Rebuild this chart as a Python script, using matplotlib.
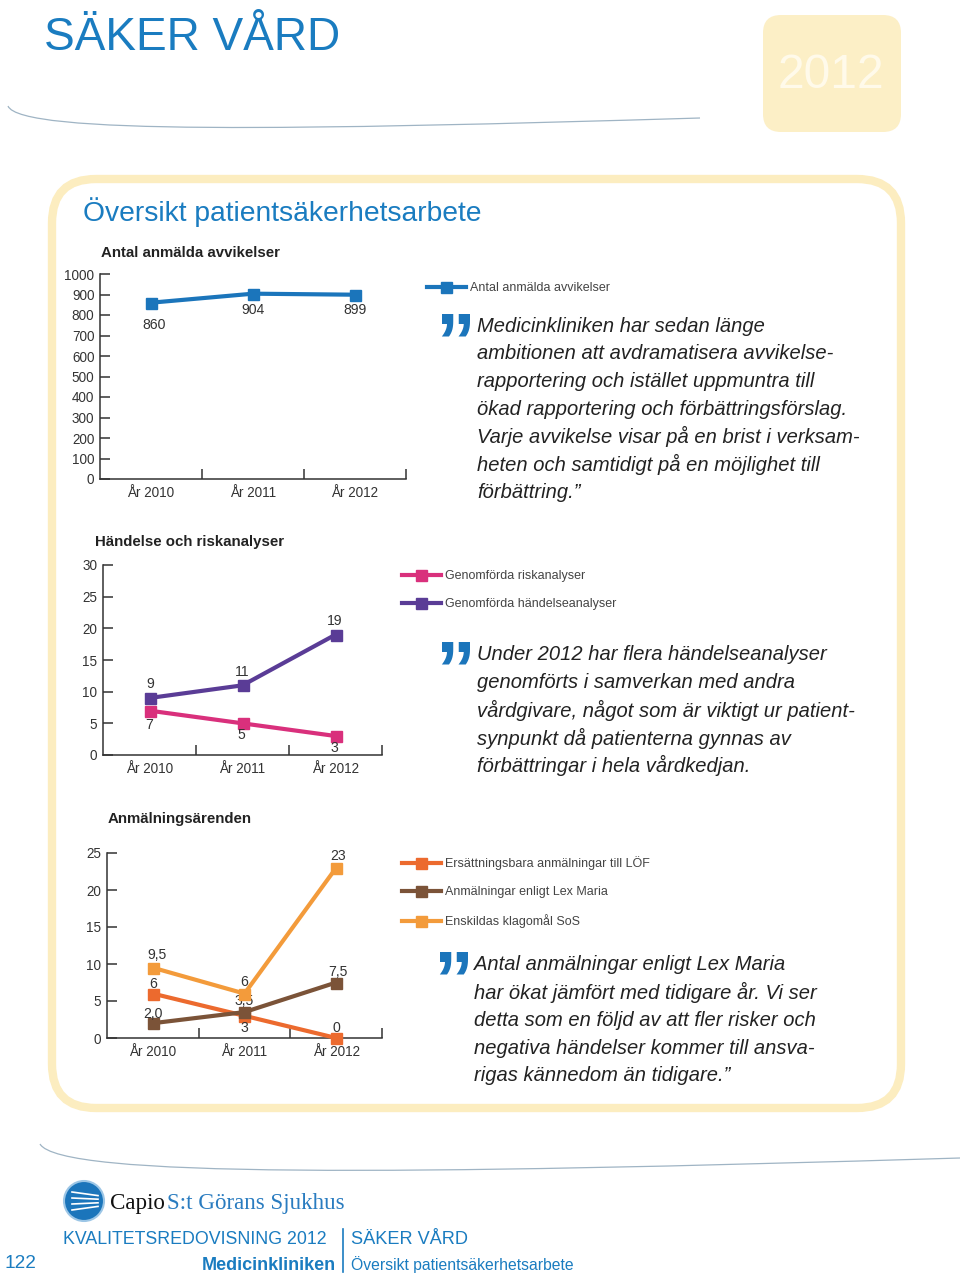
import numpy as np
import matplotlib
matplotlib.use("Agg")
import matplotlib.pyplot as plt
from matplotlib.patches import FancyBboxPatch, Circle
from matplotlib.path import Path
from matplotlib.patches import PathPatch

plt.rcParams['font.family'] = ['Liberation Sans', 'DejaVu Sans']

# ---- data ----
years = ['År 2010', 'År 2011', 'År 2012']

avvikelser = [860, 904, 899]

riskanalyser = [7, 5, 3]
handelseanalyser = [9, 11, 19]

lof = [6, 3, 0]
lex_maria = [2.0, 3.5, 7.5]
sos = [9.5, 6, 23]

lof_labels = ['6', '3', '0']
lex_labels = ['2,0', '3,5', '7,5']
sos_labels = ['9,5', '6', '23']

quote1 = ['Medicinkliniken har sedan länge',
          'ambitionen att avdramatisera avvikelse-',
          'rapportering och istället uppmuntra till',
          'ökad rapportering och förbättringsförslag.',
          'Varje avvikelse visar på en brist i verksam-',
          'heten och samtidigt på en möjlighet till',
          'förbättring.\u201d']
quote2 = ['Under 2012 har flera händelseanalyser',
          'genomförts i samverkan med andra',
          'vårdgivare, något som är viktigt ur patient-',
          'synpunkt då patienterna gynnas av',
          'förbättringar i hela vårdkedjan.']
quote3 = ['Antal anmälningar enligt Lex Maria',
          'har ökat jämfört med tidigare år. Vi ser',
          'detta som en följd av att fler risker och',
          'negativa händelser kommer till ansva-',
          'rigas kännedom än tidigare.\u201d']

BLUE = '#1b75bb'
PINK = '#d9307c'
PURPLE = '#5a3c96'
ORANGE = '#ec6a2e'
BROWN = '#7b5338'
LORANGE = '#f39b3b'
YELLOW = '#fcefc6'
TXT = '#333333'

W, H = 960, 1280


def P(px):
    return px * 0.72


fig = plt.figure(figsize=(9.6, 12.8), dpi=100)

# background canvas in pixel units
bg = fig.add_axes([0, 0, 1, 1])
bg.set_xlim(0, W)
bg.set_ylim(H, 0)
bg.axis('off')
bg.set_zorder(0)

bg.text(44, 38, 'SÄKER VÅRD', color='#1a7cc0', fontsize=P(46), va='center', ha='left')
bg.add_patch(FancyBboxPatch((763, 15), 138, 117, boxstyle='round,pad=0,rounding_size=18',
                            fc=YELLOW, ec='none'))
bg.text(831, 76, '2012', color='#fffaea', fontsize=P(48), ha='center', va='center')

# header swoosh
verts = [(8, 106), (20, 135), (300, 130), (700, 118)]
bg.add_patch(PathPatch(Path(verts, [Path.MOVETO, Path.CURVE4, Path.CURVE4, Path.CURVE4]),
                       fc='none', ec='#9fb4c4', lw=0.9))
# footer swoosh
verts = [(40, 1144), (60, 1178), (400, 1175), (960, 1158)]
bg.add_patch(PathPatch(Path(verts, [Path.MOVETO, Path.CURVE4, Path.CURVE4, Path.CURVE4]),
                       fc='none', ec='#9fb4c4', lw=0.9))

# frame
bg.add_patch(FancyBboxPatch((52, 179), 849, 929, boxstyle='round,pad=0,rounding_size=44',
                            fc='none', ec='#fcedc0', lw=6))
bg.text(83, 212, 'Översikt patientsäkerhetsarbete', color='#1a7cc0', fontsize=P(28.2),
        va='center', ha='left')

# chart titles
bg.text(101, 253, 'Antal anmälda avvikelser', fontsize=P(15), fontweight='bold',
        color='#222222', va='center')
bg.text(95, 542, 'Händelse och riskanalyser', fontsize=P(15), fontweight='bold',
        color='#222222', va='center')
bg.text(108, 819, 'Anmälningsärenden', fontsize=P(15), fontweight='bold',
        color='#222222', va='center')


def quote(x, y0, lines, qx, qy):
    for i, line in enumerate(lines):
        bg.text(x, y0 + i * 27.7, line, fontsize=P(20.2), style='italic', color='#222222',
                va='center', ha='left')
    bg.text(qx, qy, '\u201d', fontsize=P(80), fontweight='bold', color=BLUE,
            ha='center', va='top')


quote(477, 326, quote1, 455, 311)
quote(477, 655, quote2, 455, 638)
quote(474, 965, quote3, 453, 949)

# footer
bg.add_patch(Circle((84, 1201), 20, fc=BLUE, ec='#9cc6e6', lw=1.5))
for dy in (-9, -3, 3, 9):
    bg.plot([72, 98], [1201 + dy, 1201 + dy * 0.6], color='white', lw=1.2)
bg.text(110, 1203, 'Capio', family=['Liberation Serif'], fontsize=P(23), color='#111111',
        va='center')
bg.text(167, 1203, 'S:t Görans Sjukhus', family=['Liberation Serif'], fontsize=P(23),
        color='#2a7cc0', va='center')
bg.text(63, 1240, 'KVALITETSREDOVISNING 2012', fontsize=P(17.8), color='#1a7cc0', va='center')
bg.plot([343, 343], [1229, 1272], color='#1a7cc0', lw=1.2)
bg.text(351, 1240, 'SÄKER VÅRD', fontsize=P(18.2), color='#1a7cc0', va='center')
bg.text(336, 1265, 'Medicinkliniken', fontsize=P(18), fontweight='bold', color='#1a7cc0',
        va='center', ha='right')
bg.text(351, 1265, 'Översikt patientsäkerhetsarbete', fontsize=P(15.8), color='#1a7cc0',
        va='center')
bg.text(4, 1264, '122', fontsize=P(19), color='#1a7cc0', va='center')


def chart_axes(x0, x1, ytop, ybot, ymax, ystep):
    ax = fig.add_axes([x0 / W, 1 - ybot / H, (x1 - x0) / W, (ybot - ytop) / H])
    ax.set_zorder(2)
    ax.patch.set_alpha(0)
    ax.set_xlim(-0.5, 2.5)
    ax.set_ylim(0, ymax)
    ax.set_yticks(np.arange(0, ymax + 1, ystep))
    ax.set_xticks(range(3))
    ax.set_xticklabels(years)
    ax.set_xticks([0.5, 1.5, 2.5], minor=True)
    for s in ('top', 'right'):
        ax.spines[s].set_visible(False)
    for s in ('left', 'bottom'):
        ax.spines[s].set_color(TXT)
        ax.spines[s].set_linewidth(1.1)
    ax.tick_params(axis='y', direction='in', length=7, width=1.1, color=TXT,
                   labelsize=P(13.5), labelcolor=TXT, pad=4)
    ax.tick_params(axis='x', which='major', length=0, labelsize=P(13.5), labelcolor=TXT,
                   pad=5)
    ax.tick_params(axis='x', which='minor', direction='in', length=7, width=1.1, color=TXT)
    return ax


def series(ax, vals, color, labels, offsets, name):
    line, = ax.plot(range(3), vals, color=color, lw=3, marker='s', markersize=P(11),
                    clip_on=False, label=name, zorder=3)
    for i, (v, lab, off) in enumerate(zip(vals, labels, offsets)):
        ax.annotate(lab, (i, v), xytext=(P(off[0]), P(-off[1])), textcoords='offset points',
                    ha='center', va='center', fontsize=P(14), color=TXT)
    return line


def legend(ax, handles, x, y, spacing):
    ax.legend(handles=handles, loc='upper left', bbox_to_anchor=(x, y),
              bbox_transform=bg.transData, frameon=False, fontsize=P(12.5),
              handlelength=3.1, handletextpad=0.35, borderpad=0, borderaxespad=0,
              labelspacing=spacing, numpoints=1, labelcolor='#444444')


# chart 1
ax1 = chart_axes(100, 406, 274, 479, 1000, 100)
l1 = series(ax1, avvikelser, BLUE, [str(v) for v in avvikelser],
            [(3, 22), (0, 16), (0, 15)], 'Antal anmälda avvikelser')
legend(ax1, [l1], 427, 282, 1.0)

# chart 2
ax2 = chart_axes(103, 382, 565, 755, 30, 5)
l2a = series(ax2, riskanalyser, PINK, [str(v) for v in riskanalyser],
             [(0, 14), (-1, 12), (-1, 12)], 'Genomförda riskanalyser')
l2b = series(ax2, handelseanalyser, PURPLE, [str(v) for v in handelseanalyser],
             [(1, -14), (0, -13), (-1, -14)], 'Genomförda händelseanalyser')
legend(ax2, [l2a, l2b], 402, 570, 1.3)

# chart 3
ax3 = chart_axes(107, 382, 853, 1038, 25, 5)
l3a = series(ax3, lof, ORANGE, lof_labels, [(0, -10), (0, 12), (0, -10)],
             'Ersättningsbara anmälningar till LÖF')
l3b = series(ax3, lex_maria, BROWN, lex_labels, [(0, -9), (0, -11), (2, -11)],
             'Anmälningar enligt Lex Maria')
l3c = series(ax3, sos, LORANGE, sos_labels, [(4, -13), (0, -12), (2, -12)],
             'Enskildas klagomål SoS')
legend(ax3, [l3a, l3b, l3c], 402, 856, 1.3)

fig.savefig('out.png', dpi=100)
